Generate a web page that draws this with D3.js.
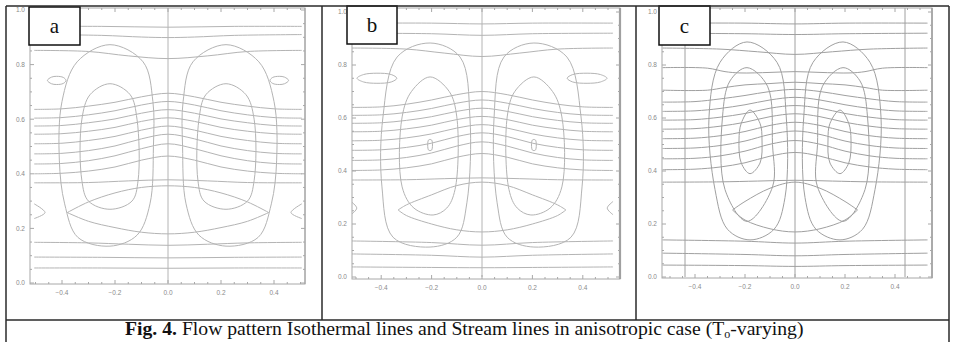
<!DOCTYPE html>
<html>
<head>
<meta charset="utf-8">
<script src="https://cdn.jsdelivr.net/npm/d3@7"></script>
<style>
  body { margin: 0; background: #fff; }
  svg { display: block; }
</style>
</head>
<body>
<div id="chart"></div>
<script>
// Axis ticks (same on every panel)
const xTicks = [-0.4, -0.2, 0.0, 0.2, 0.4];
const yTicks = [0.0, 0.2, 0.4, 0.6, 0.8, 1.0];
const panelNames = ["a", "b", "c"];
const caption = ["Fig. 4.", " Flow pattern Isothermal lines and Stream lines in anisotropic case (T", "o", "-varying)"];

// Contour points, left half only (x <= 0); the plots are mirror symmetric.
// *Iso: open lines running from the left wall to x = 0
// *Cells: closed stream-line loops
// *Edges: open bits touching the wall
// *Vertical: straight vertical contours

// panel a
const aIso = [
  [[-0.505, 0.940], [-0.25, 0.940], [0, 0.937]],
  [[-0.505, 0.910], [-0.25, 0.907], [-0.1, 0.901], [0, 0.899]],
  [[-0.505, 0.852], [-0.3, 0.848], [-0.15, 0.832], [0, 0.822]],
  [[-0.505, 0.636], [-0.4, 0.638], [-0.3, 0.648], [-0.2, 0.662], [-0.1, 0.682], [0, 0.695]],
  [[-0.505, 0.604], [-0.4, 0.606], [-0.3, 0.616], [-0.2, 0.631], [-0.1, 0.652], [0, 0.665]],
  [[-0.505, 0.575], [-0.4, 0.577], [-0.3, 0.587], [-0.2, 0.601], [-0.1, 0.622], [0, 0.635]],
  [[-0.505, 0.545], [-0.4, 0.547], [-0.3, 0.556], [-0.2, 0.570], [-0.1, 0.592], [0, 0.605]],
  [[-0.505, 0.510], [-0.4, 0.512], [-0.3, 0.522], [-0.2, 0.537], [-0.1, 0.560], [0, 0.575]],
  [[-0.505, 0.473], [-0.4, 0.475], [-0.3, 0.485], [-0.2, 0.502], [-0.1, 0.528], [0, 0.545]],
  [[-0.505, 0.436], [-0.4, 0.438], [-0.3, 0.448], [-0.2, 0.466], [-0.1, 0.492], [0, 0.510]],
  [[-0.505, 0.400], [-0.4, 0.402], [-0.3, 0.410], [-0.2, 0.425], [-0.1, 0.450], [0, 0.465]],
  [[-0.505, 0.367], [-0.3, 0.368], [-0.15, 0.374], [0, 0.378]],
  [[-0.38, 0.258], [-0.3, 0.297], [-0.2, 0.330], [-0.1, 0.350], [0, 0.356]],
  [[-0.38, 0.258], [-0.3, 0.226], [-0.2, 0.203], [-0.1, 0.186], [0, 0.180]],
  [[-0.505, 0.149], [-0.3, 0.147], [-0.15, 0.142], [0, 0.138]],
  [[-0.505, 0.095], [-0.25, 0.094], [0, 0.092]],
  [[-0.505, 0.055], [-0.25, 0.055], [0, 0.054]]
];
const aCells = [
  [[-0.219, 0.873], [-0.094, 0.81], [-0.057, 0.665], [-0.055, 0.50], [-0.068, 0.29], [-0.117, 0.175],
   [-0.219, 0.135], [-0.34, 0.167], [-0.39, 0.29], [-0.41, 0.45], [-0.40, 0.665], [-0.343, 0.81]],
  [[-0.219, 0.73], [-0.143, 0.69], [-0.117, 0.60], [-0.113, 0.375], [-0.136, 0.30], [-0.219, 0.27],
   [-0.30, 0.30], [-0.325, 0.375], [-0.325, 0.60], [-0.294, 0.69]],
  [[-0.455, 0.742], [-0.44, 0.754], [-0.42, 0.757], [-0.395, 0.753], [-0.385, 0.742], [-0.395, 0.731],
   [-0.42, 0.727], [-0.44, 0.730]]
];
const aEdges = [
  [[-0.505, 0.290], [-0.464, 0.258], [-0.505, 0.236]]
];
const aVertical = [0];

// panel b
const bIso = [
  [[-0.52, 0.958], [-0.2, 0.958], [0, 0.955]],
  [[-0.52, 0.920], [-0.2, 0.918], [0, 0.912]],
  [[-0.52, 0.864], [-0.3, 0.860], [-0.15, 0.845], [0, 0.832]],
  [[-0.52, 0.640], [-0.4, 0.642], [-0.3, 0.652], [-0.2, 0.668], [-0.1, 0.688], [0, 0.700]],
  [[-0.52, 0.610], [-0.4, 0.612], [-0.3, 0.621], [-0.2, 0.636], [-0.1, 0.656], [0, 0.668]],
  [[-0.52, 0.580], [-0.4, 0.582], [-0.3, 0.591], [-0.2, 0.605], [-0.1, 0.625], [0, 0.637]],
  [[-0.52, 0.548], [-0.4, 0.550], [-0.3, 0.559], [-0.2, 0.573], [-0.1, 0.594], [0, 0.606]],
  [[-0.52, 0.514], [-0.4, 0.516], [-0.3, 0.525], [-0.2, 0.540], [-0.1, 0.562], [0, 0.575]],
  [[-0.52, 0.478], [-0.4, 0.480], [-0.3, 0.489], [-0.2, 0.505], [-0.1, 0.530], [0, 0.544]],
  [[-0.52, 0.440], [-0.4, 0.442], [-0.3, 0.451], [-0.2, 0.468], [-0.1, 0.494], [0, 0.510]],
  [[-0.52, 0.402], [-0.4, 0.404], [-0.3, 0.412], [-0.2, 0.427], [-0.1, 0.452], [0, 0.466]],
  [[-0.52, 0.366], [-0.3, 0.367], [-0.15, 0.371], [0, 0.374]],
  [[-0.333, 0.253], [-0.3, 0.272], [-0.2, 0.310], [-0.1, 0.345], [0, 0.358]],
  [[-0.333, 0.253], [-0.3, 0.232], [-0.2, 0.200], [-0.1, 0.178], [0, 0.170]],
  [[-0.52, 0.136], [-0.2, 0.130], [0, 0.120]],
  [[-0.52, 0.087], [-0.2, 0.082], [0, 0.075]],
  [[-0.52, 0.038], [-0.2, 0.036], [0, 0.035]]
];
const bCells = [
  [[-0.206, 0.883], [-0.087, 0.83], [-0.048, 0.604], [-0.06, 0.28], [-0.10, 0.15], [-0.206, 0.113],
   [-0.353, 0.15], [-0.397, 0.34], [-0.393, 0.604], [-0.337, 0.83]],
  [[-0.206, 0.755], [-0.13, 0.70], [-0.10, 0.604], [-0.107, 0.33], [-0.14, 0.26], [-0.194, 0.234],
   [-0.27, 0.26], [-0.317, 0.34], [-0.317, 0.604], [-0.28, 0.70]],
  [[-0.212, 0.517], [-0.200, 0.517], [-0.200, 0.479], [-0.212, 0.479]],
  [[-0.496, 0.75], [-0.47, 0.764], [-0.417, 0.769], [-0.36, 0.764], [-0.338, 0.75], [-0.36, 0.736],
   [-0.417, 0.731], [-0.47, 0.736]]
];
const bEdges = [
  [[-0.52, 0.285], [-0.497, 0.260], [-0.52, 0.235]]
];
const bVertical = [0];

// panel c
const cIso = [
  [[-0.53, 0.958], [-0.2, 0.958], [0, 0.955]],
  [[-0.53, 0.920], [-0.2, 0.918], [0, 0.915]],
  [[-0.53, 0.864], [-0.3, 0.860], [-0.15, 0.850], [0, 0.840]],
  [[-0.53, 0.790], [-0.35, 0.788], [-0.28, 0.775], [-0.22, 0.770], [-0.1, 0.772], [0, 0.775]],
  [[-0.53, 0.705], [-0.35, 0.705], [-0.28, 0.715], [-0.2, 0.725], [-0.1, 0.73], [0, 0.735]],
  [[-0.53, 0.660], [-0.4, 0.662], [-0.3, 0.672], [-0.2, 0.685], [-0.1, 0.700], [0, 0.708]],
  [[-0.53, 0.625], [-0.4, 0.627], [-0.3, 0.636], [-0.2, 0.650], [-0.1, 0.668], [0, 0.678]],
  [[-0.53, 0.592], [-0.4, 0.594], [-0.3, 0.603], [-0.2, 0.617], [-0.1, 0.637], [0, 0.647]],
  [[-0.53, 0.558], [-0.4, 0.560], [-0.3, 0.569], [-0.2, 0.584], [-0.1, 0.605], [0, 0.616]],
  [[-0.53, 0.522], [-0.4, 0.524], [-0.3, 0.533], [-0.2, 0.549], [-0.1, 0.572], [0, 0.584]],
  [[-0.53, 0.485], [-0.4, 0.487], [-0.3, 0.496], [-0.2, 0.513], [-0.1, 0.538], [0, 0.551]],
  [[-0.53, 0.446], [-0.4, 0.448], [-0.3, 0.457], [-0.2, 0.475], [-0.1, 0.501], [0, 0.515]],
  [[-0.53, 0.405], [-0.4, 0.407], [-0.3, 0.415], [-0.2, 0.431], [-0.1, 0.456], [0, 0.470]],
  [[-0.53, 0.358], [-0.3, 0.359], [-0.15, 0.362], [0, 0.365]],
  [[-0.25, 0.253], [-0.2, 0.285], [-0.1, 0.335], [0, 0.358]],
  [[-0.25, 0.253], [-0.2, 0.215], [-0.1, 0.182], [0, 0.170]],
  [[-0.53, 0.140], [-0.2, 0.135], [0, 0.128]],
  [[-0.53, 0.090], [-0.2, 0.085], [0, 0.080]],
  [[-0.53, 0.045], [-0.2, 0.043], [0, 0.040]]
];
const cCells = [
  [[-0.192, 0.887], [-0.072, 0.81], [-0.035, 0.604], [-0.04, 0.30], [-0.084, 0.18], [-0.18, 0.14],
   [-0.27, 0.18], [-0.32, 0.33], [-0.344, 0.604], [-0.30, 0.81]],
  [[-0.192, 0.79], [-0.11, 0.72], [-0.09, 0.50], [-0.09, 0.34], [-0.192, 0.21], [-0.28, 0.33],
   [-0.29, 0.604], [-0.26, 0.74]],
  [[-0.18, 0.63], [-0.14, 0.58], [-0.132, 0.517], [-0.14, 0.43], [-0.18, 0.39], [-0.215, 0.43],
   [-0.224, 0.517], [-0.215, 0.58]]
];
const cEdges = [];
const cVertical = [-0.44, 0, 0.44];

const panelData = [
  { iso: aIso, cells: aCells, edges: aEdges, vertical: aVertical },
  { iso: bIso, cells: bCells, edges: bEdges, vertical: bVertical },
  { iso: cIso, cells: cCells, edges: cEdges, vertical: cVertical }
];

// layout (pixels)
const width = 957, height = 342;
const layout = [
  { frame: [30, 305, 8, 284], xr: [35.5, 300.5], yr: [283, 10], box: [29, 7, 51, 38], stroke: "#b4b4b4", rightW: 1 },
  { frame: [352, 620, 8, 279], xr: [356, 608], yr: [277, 12], box: [347, 6, 50, 38], stroke: "#b4b4b4", rightW: 2.2 },
  { frame: [662, 932, 8, 278], xr: [670, 920], yr: [277, 12], box: [659, 6, 51, 39], stroke: "#a0a0a0", rightW: 1.6 }
];

const svg = d3.select("#chart")
  .append("svg")
  .attr("width", width)
  .attr("height", height);

function mirrorHalf(pts) {
  const right = pts.slice(0, -1).reverse().map(([x, y]) => [-x, y]);
  return pts.concat(right);
}
function mirror(pts) {
  return pts.map(([x, y]) => [-x, y]);
}

const fmt = d3.format(".1f");

panelData.forEach((pd, i) => {
  const L = layout[i];
  const [fl, fr, ft, fb] = L.frame;
  const x = d3.scaleLinear().domain([-0.5, 0.5]).range(L.xr);
  const y = d3.scaleLinear().domain([0, 1]).range(L.yr);

  const g = svg.append("g").attr("class", "panel-" + panelNames[i]);

  g.append("clipPath").attr("id", "clip" + i)
    .append("rect")
    .attr("x", fl).attr("y", ft)
    .attr("width", fr - fl).attr("height", fb - ft);

  const lines = g.append("g")
    .attr("clip-path", `url(#clip${i})`)
    .attr("fill", "none")
    .attr("stroke", L.stroke)
    .attr("stroke-width", 1);

  const open = d3.line().x(d => x(d[0])).y(d => y(d[1])).curve(d3.curveCatmullRom.alpha(0.5));
  const closed = d3.line().x(d => x(d[0])).y(d => y(d[1])).curve(d3.curveCatmullRomClosed.alpha(0.5));

  // isotherms
  lines.selectAll(".iso")
    .data(pd.iso.map(mirrorHalf))
    .enter().append("path")
    .attr("class", "iso")
    .attr("d", open);

  // stream-line loops, both cells
  lines.selectAll(".cell")
    .data(pd.cells.concat(pd.cells.map(mirror)))
    .enter().append("path")
    .attr("class", "cell")
    .attr("d", closed);

  lines.selectAll(".edge")
    .data(pd.edges.concat(pd.edges.map(mirror)))
    .enter().append("path")
    .attr("class", "edge")
    .attr("d", open);

  lines.selectAll(".vert")
    .data(pd.vertical)
    .enter().append("line")
    .attr("class", "vert")
    .attr("x1", d => x(d)).attr("x2", d => x(d))
    .attr("y1", y(0)).attr("y2", y(1.05));

  // frame
  g.append("rect")
    .attr("x", fl).attr("y", ft)
    .attr("width", fr - fl).attr("height", fb - ft)
    .attr("fill", "none")
    .attr("stroke", "#a8a8a8")
    .attr("stroke-width", 1);
  g.append("line")
    .attr("x1", fr).attr("x2", fr).attr("y1", ft).attr("y2", fb)
    .attr("stroke", "#a0a0a0")
    .attr("stroke-width", L.rightW);

  // frame ticks, pointing inward
  const tickG = g.append("g").attr("stroke", "#a8a8a8");
  const minorX = x.ticks(20), minorY = y.ticks(20);
  const major = v => Math.abs(Math.round(v * 5) - v * 5) < 1e-6;
  tickG.selectAll(".tb").data(minorX).enter().append("line")
    .attr("x1", d => x(d)).attr("x2", d => x(d))
    .attr("y1", fb).attr("y2", d => fb - (major(d) ? 4 : 2));
  tickG.selectAll(".tt").data(minorX).enter().append("line")
    .attr("x1", d => x(d)).attr("x2", d => x(d))
    .attr("y1", ft).attr("y2", d => ft + (major(d) ? 4 : 2));
  tickG.selectAll(".tl").data(minorY).enter().append("line")
    .attr("y1", d => y(d)).attr("y2", d => y(d))
    .attr("x1", fl).attr("x2", d => fl + (major(d) ? 4 : 2));
  tickG.selectAll(".tr").data(minorY).enter().append("line")
    .attr("y1", d => y(d)).attr("y2", d => y(d))
    .attr("x1", fr).attr("x2", d => fr - (major(d) ? 4 : 2));

  // tick labels
  const labG = g.append("g")
    .attr("font-family", "'Liberation Sans', Arial, sans-serif")
    .attr("font-size", "6.5px")
    .attr("fill", "#8a8a8a");
  labG.selectAll(".xl").data(xTicks).enter().append("text")
    .attr("x", d => x(d)).attr("y", fb + 11)
    .attr("text-anchor", "middle")
    .text(d => fmt(d));
  labG.selectAll(".yl").data(yTicks).enter().append("text")
    .attr("x", fl - 5).attr("y", d => y(d) + 2.3)
    .attr("text-anchor", "end")
    .text(d => fmt(d));

  // panel letter
  const [bx, by, bw, bh] = L.box;
  g.append("rect")
    .attr("x", bx).attr("y", by).attr("width", bw).attr("height", bh)
    .attr("fill", "#fff").attr("stroke", "#111").attr("stroke-width", 1.5);
  g.append("text")
    .attr("x", bx + bw / 2).attr("y", by + bh / 2 + 7)
    .attr("text-anchor", "middle")
    .attr("font-family", "'Liberation Serif', 'Times New Roman', serif")
    .attr("font-size", "21px")
    .attr("fill", "#111")
    .text(panelNames[i]);
});

// table lines
const table = svg.append("g").attr("stroke", "#2a2a2a").attr("stroke-width", 1.5);
[[6, 6, 949, 6], [6, 6, 6, 342], [949, 6, 949, 342], [6, 320, 949, 320], [322, 6, 322, 320], [636, 6, 636, 320]]
  .forEach(([x1, y1, x2, y2]) => table.append("line").attr("x1", x1).attr("y1", y1).attr("x2", x2).attr("y2", y2));

// caption
const cap = svg.append("text")
  .attr("x", 125).attr("y", 335)
  .attr("font-family", "'Liberation Serif', 'Times New Roman', serif")
  .attr("font-size", "18px")
  .attr("fill", "#111");
cap.append("tspan").attr("font-weight", "bold").text(caption[0]);
cap.append("tspan").text(caption[1]);
cap.append("tspan").attr("font-size", "12px").attr("dy", 3).text(caption[2]);
cap.append("tspan").attr("dy", -3).text(caption[3]);
// fit caption to the width it has in the figure
const capW = cap.node().getComputedTextLength();
const target = 680;
cap.attr("font-size", (18 * target / capW).toFixed(2) + "px");
</script>
</body>
</html>
